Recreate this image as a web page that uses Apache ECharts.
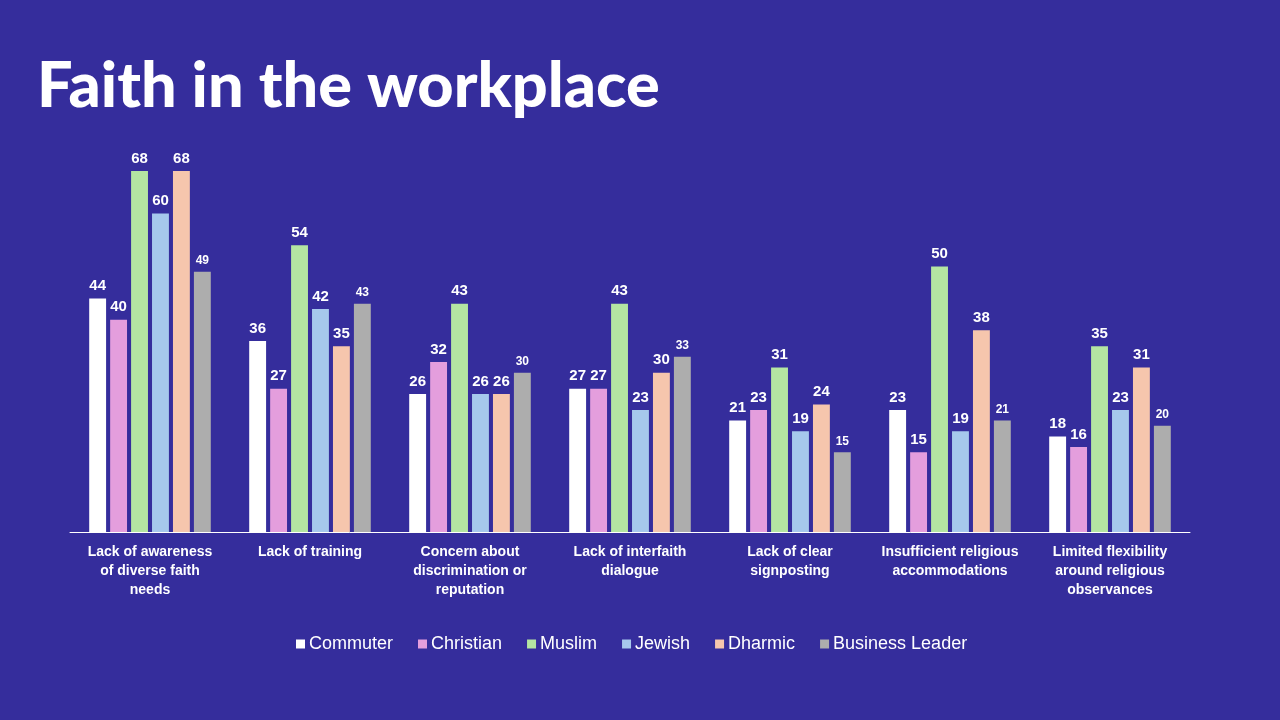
<!DOCTYPE html>
<html>
<head>
<meta charset="utf-8">
<script src="https://cdn.jsdelivr.net/npm/echarts@6/dist/echarts.min.js"></script>
<style>
  html, body { margin: 0; padding: 0; background: #352d9c; }
  #chart { width: 1280px; height: 720px; }
</style>
</head>
<body>
<div id="chart"></div>
<script>
// categories along the x axis
const categories = [
  'Lack of awareness\nof diverse faith\nneeds',
  'Lack of training',
  'Concern about\ndiscrimination or\nreputation',
  'Lack of interfaith\ndialogue',
  'Lack of clear\nsignposting',
  'Insufficient religious\naccommodations',
  'Limited flexibility\naround religious\nobservances'
];

// one array per group
const commuter = [44, 36, 26, 27, 21, 23, 18];
const christian = [40, 27, 32, 27, 23, 15, 16];
const muslim = [68, 54, 43, 43, 31, 50, 35];
const jewish = [60, 42, 26, 23, 19, 19, 23];
const dharmic = [68, 35, 26, 30, 24, 38, 31];
const businessLeader = [49, 43, 30, 33, 15, 21, 20];

const seriesNames = ['Commuter', 'Christian', 'Muslim', 'Jewish', 'Dharmic', 'Business Leader'];
const seriesData = [commuter, christian, muslim, jewish, dharmic, businessLeader];
const colors = ['#ffffff', '#e49edd', '#b4e5a2', '#a6c8ec', '#f6c6ad', '#adadad'];

const ARIAL = '"Liberation Sans", Arial, sans-serif';

const chart = echarts.init(document.getElementById('chart'));

const series = seriesNames.map((name, i) => ({
  name: name,
  type: 'bar',
  data: seriesData[i],
  barGap: '24%',
  barCategoryGap: '24%',
  itemStyle: { color: colors[i] },
  label: {
    show: true,
    position: 'top',
    distance: 5,
    color: '#ffffff',
    fontFamily: ARIAL,
    fontWeight: 'bold',
    fontSize: i === 5 ? 12 : 15
  }
}));

chart.setOption({
  backgroundColor: '#352d9c',
  animation: false,
  title: {
    text: 'Faith in the workplace',
    left: 32,
    top: 50,
    textStyle: {
      color: '#ffffff',
      fontFamily: 'Lato, sans-serif',
      fontWeight: 900,
      fontSize: 63
    }
  },
  legend: {
    bottom: 62,
    left: 291,
    itemWidth: 9,
    itemHeight: 9,
    itemGap: 25,
    icon: 'rect',
    textStyle: {
      color: '#ffffff',
      fontFamily: ARIAL,
      fontSize: 18,
      padding: [0, 0, 0, -1]
    },
    data: seriesNames
  },
  grid: { left: 70, right: 90, top: 171, bottom: 188 },
  xAxis: {
    type: 'category',
    data: categories,
    axisLine: { lineStyle: { color: '#ffffff', width: 1 } },
    axisTick: { show: false },
    axisLabel: {
      interval: 0,
      color: '#ffffff',
      fontFamily: ARIAL,
      fontWeight: 'bold',
      fontSize: 14,
      lineHeight: 19,
      margin: 11
    }
  },
  yAxis: {
    type: 'value',
    min: 0,
    max: 68,
    show: false,
    splitLine: { show: false }
  },
  series: series
});
</script>
</body>
</html>
